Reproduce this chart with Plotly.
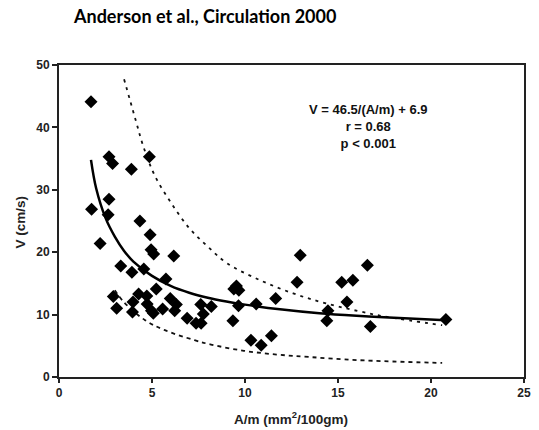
import plotly.graph_objects as go

# Scatter data: A/m (mm^2/100gm) vs V (cm/s)
am = [1.72, 1.75, 2.69, 2.88, 2.69, 2.64, 2.21, 3.89, 4.86, 4.35, 4.9, 4.95, 5.09, 6.17,
      3.32, 3.92, 4.56, 5.75, 5.23, 4.28, 4.72, 2.92, 3.98, 4.74, 3.1, 3.95, 4.97, 5.07,
      5.57, 5.98, 6.31, 6.22, 6.89, 7.37, 7.64, 7.62, 7.76, 8.19, 9.35, 9.4, 9.54, 9.67,
      9.65, 10.6, 10.32, 10.87, 11.42, 11.65, 12.97, 12.8, 14.46, 14.4, 15.2, 15.8, 15.48,
      16.58, 16.74, 20.8]
v = [44.1, 26.9, 35.3, 34.2, 28.5, 26.0, 21.4, 33.3, 35.3, 25.0, 22.8, 20.4, 19.7, 19.4,
     17.8, 16.8, 17.3, 15.7, 14.1, 13.3, 13.0, 12.9, 12.0, 11.7, 11.0, 10.4, 10.6, 10.2,
     10.9, 12.6, 11.6, 10.6, 9.4, 8.6, 8.6, 11.6, 10.1, 11.3, 9.0, 14.1, 14.6, 13.9,
     11.4, 11.7, 5.9, 5.1, 6.6, 12.6, 19.5, 15.2, 10.6, 9.0, 15.2, 15.5, 12.0,
     17.9, 8.1, 9.2]

# Fitted curve
fit_x = [1.72, 2.0, 2.5, 3.0, 3.5, 4.0, 5.0, 6.0, 7.0, 8.0, 9.0, 10.0, 12.0, 14.0, 16.0, 18.0, 20.8]
fit_y = [34.8, 30.2, 25.5, 22.5, 20.2, 18.5, 16.2, 14.6, 13.5, 12.7, 12.1, 11.6, 10.8, 10.2, 9.8, 9.5, 9.1]

# Upper dashed band
up_x = [3.5, 4.1, 4.54, 5.16, 6.05, 7.02, 8.0, 9.05, 10.82, 12.59, 14.35, 16.65, 17.7, 20.6]
up_y = [47.7, 41.4, 36.9, 32.2, 27.8, 23.8, 20.9, 18.2, 15.5, 13.4, 11.8, 10.2, 9.6, 8.3]

# Lower dashed band
lo_x = [3.0, 3.49, 4.63, 5.69, 7.29, 8.17, 9.94, 11.7, 13.47, 16.1, 20.6]
lo_y = [13.9, 12.0, 9.1, 7.5, 5.9, 5.2, 4.2, 3.6, 3.2, 2.7, 2.25]

x_ticks = [0, 5, 10, 15, 20, 25]
y_ticks = [0, 10, 20, 30, 40, 50]

eq_lines = ["V = 46.5/(A/m) + 6.9", "r = 0.68", "p < 0.001"]

fig = go.Figure()
fig.add_trace(go.Scatter(x=up_x, y=up_y, mode="lines", line=dict(color="#111", width=1.8, dash="3px,5px", shape="spline"), hoverinfo="skip"))
fig.add_trace(go.Scatter(x=lo_x, y=lo_y, mode="lines", line=dict(color="#111", width=1.8, dash="4px,4px", shape="spline"), hoverinfo="skip"))
fig.add_trace(go.Scatter(x=fit_x, y=fit_y, mode="lines", line=dict(color="#000", width=2.5, shape="spline"), hoverinfo="skip"))
fig.add_trace(go.Scatter(x=am, y=v, mode="markers", marker=dict(symbol="diamond", size=10, color="#000", line=dict(width=0))))

axis_font = dict(family="Liberation Sans", size=12, color="#222")

fig.update_layout(
    width=539, height=430,
    margin=dict(l=59, r=8, t=65, b=53),
    paper_bgcolor="white", plot_bgcolor="white",
    showlegend=False,
    xaxis=dict(range=[0, 25], tickvals=x_ticks, ticktext=[f"<b>{t}</b>" for t in x_ticks],
               ticks="outside", ticklen=4, tickwidth=1.5,
               tickcolor="#222", showline=True, linecolor="#222", linewidth=2, mirror=True,
               showgrid=False, zeroline=False, tickfont=axis_font),
    yaxis=dict(range=[0, 50], tickvals=y_ticks, ticktext=[f"<b>{t}</b>" for t in y_ticks],
               ticks="outside", ticklen=5, tickwidth=1.5,
               tickcolor="#222", showline=True, linecolor="#222", linewidth=2, mirror=True,
               showgrid=False, zeroline=False, tickfont=axis_font),
)

annotations = [
    dict(text="<b>Anderson et al., Circulation 2000</b>", xref="paper", yref="paper",
         x=(71 - 59) / 472, y=1 + (65 - 16) / 312, xanchor="left", yanchor="middle",
         showarrow=False, font=dict(family="Lato", size=18, color="#000")),
    dict(text="<b>V (cm/s)</b>", xref="paper", yref="paper", x=(19 - 59) / 472, y=(377 - 222) / 312,
         textangle=-90, xanchor="center", yanchor="middle", showarrow=False,
         font=dict(family="Liberation Sans", size=13.5, color="#222")),
    dict(text="<b>A/m (mm<sup>2</sup>/100gm)</b>", xref="paper", yref="paper", x=(294 - 59) / 472,
         y=-(418 - 377) / 312, xanchor="center", yanchor="middle", showarrow=False,
         font=dict(family="Liberation Sans", size=13.5, color="#222")),
    dict(text="<br>".join(f"<b>{t}</b>" for t in eq_lines), x=16.63, y=40.2, xref="x", yref="y",
         xanchor="center", yanchor="middle", align="center", showarrow=False,
         font=dict(family="Liberation Sans", size=13, color="#111")),
]
fig.update_layout(annotations=annotations)

fig.write_html("out.html")
